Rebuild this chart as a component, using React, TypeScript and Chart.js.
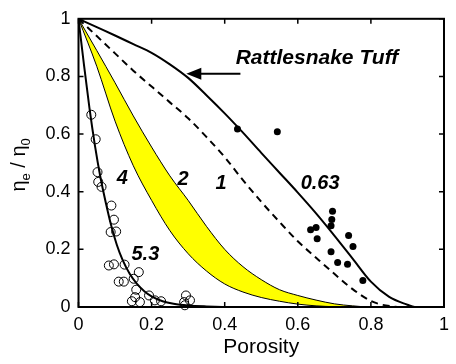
import { useEffect, useRef } from "react";
import { Chart, registerables } from "chart.js";

Chart.register(...registerables);

const FONT = '"Liberation Sans", Arial, Helvetica, sans-serif';

// Axis ticks
const tickValues = [0, 0.2, 0.4, 0.6, 0.8, 1];
const tickLabels = ["0", "0.2", "0.4", "0.6", "0.8", "1"];

// Fit with exponent 0.63 (Rattlesnake Tuff)
const fit063Phi = [0, 0.05, 0.1, 0.15, 0.2, 0.25, 0.3, 0.35, 0.4, 0.45, 0.5, 0.55, 0.6, 0.65, 0.7, 0.75, 0.8, 0.85, 0.9, 0.92, 1];
const fit063Eta = [1, 0.971, 0.942, 0.912, 0.882, 0.842, 0.795, 0.735, 0.672, 0.605, 0.535, 0.466, 0.397, 0.325, 0.248, 0.168, 0.088, 0.035, 0.008, 0, 0];

// Exponent 1 (dashed)
const fit1Phi = [0, 0.05, 0.1, 0.15, 0.2, 0.25, 0.3, 0.35, 0.4, 0.45, 0.5, 0.55, 0.6, 0.65, 0.7, 0.75, 0.8, 0.83, 0.86, 0.88, 1];
const fit1Eta = [1, 0.94, 0.88, 0.82, 0.765, 0.71, 0.655, 0.59, 0.52, 0.44, 0.365, 0.295, 0.228, 0.171, 0.115, 0.062, 0.021, 0.008, 0.002, 0, 0];

// Shaded band between exponents 2 and 4
const bandPhi = [0, 0.05, 0.1, 0.15, 0.2, 0.25, 0.3, 0.35, 0.4, 0.45, 0.5, 0.55, 0.6, 0.65, 0.7, 0.75, 0.8, 1];
const band2Eta = [1, 0.89, 0.778, 0.663, 0.555, 0.455, 0.37, 0.28, 0.2, 0.14, 0.095, 0.06, 0.04, 0.024, 0.011, 0.004, 0, 0];
const band4Eta = [1, 0.835, 0.645, 0.49, 0.37, 0.265, 0.185, 0.125, 0.08, 0.052, 0.033, 0.02, 0.01, 0.004, 0.001, 0, 0, 0];

// Exponent 5.3 fit
const fit53Phi = [0, 0.015, 0.03, 0.045, 0.06, 0.075, 0.09, 0.105, 0.12, 0.14, 0.16, 0.18, 0.2, 0.23, 0.26, 0.3, 0.35, 0.43, 1];
const fit53Eta = [1, 0.84, 0.69, 0.56, 0.45, 0.36, 0.28, 0.215, 0.165, 0.115, 0.08, 0.055, 0.037, 0.02, 0.011, 0.005, 0.002, 0, 0];

// Open-circle measurements
const openPhi = [0.035, 0.047, 0.052, 0.054, 0.063, 0.09, 0.097, 0.103, 0.088, 0.083, 0.097, 0.126, 0.11, 0.124, 0.165, 0.151, 0.158, 0.155, 0.146, 0.168, 0.193, 0.209, 0.226, 0.294, 0.305, 0.289, 0.291];
const openEta = [0.667, 0.582, 0.468, 0.434, 0.417, 0.352, 0.303, 0.262, 0.26, 0.144, 0.148, 0.147, 0.088, 0.088, 0.121, 0.098, 0.06, 0.034, 0.02, 0.017, 0.04, 0.023, 0.02, 0.04, 0.023, 0.017, 0.006];

// Rattlesnake Tuff measurements
const tuffPhi = [0.435, 0.544, 0.695, 0.693, 0.691, 0.635, 0.65, 0.653, 0.739, 0.751, 0.691, 0.709, 0.736, 0.778];
const tuffEta = [0.618, 0.608, 0.332, 0.304, 0.282, 0.268, 0.276, 0.237, 0.248, 0.21, 0.192, 0.154, 0.148, 0.092];

const pts = (xs: number[], ys: number[]) => xs.map((x, i) => ({ x, y: ys[i] }));

const curveLabels = [
  { text: "4", x: 0.12, y: 0.447 },
  { text: "2", x: 0.286, y: 0.442 },
  { text: "1", x: 0.39, y: 0.43 },
  { text: "5.3", x: 0.183, y: 0.182 },
  { text: "0.63", x: 0.661, y: 0.427 },
];

const framePlugin = {
  id: "frameAndNotes",
  afterDraw(chart: any) {
    const { ctx, chartArea: a, scales } = chart;
    const xs = scales.x;
    const ys = scales.y;
    ctx.save();
    ctx.strokeStyle = "#000";
    ctx.fillStyle = "#000";
    ctx.lineWidth = 2;
    ctx.strokeRect(a.left, a.top, a.right - a.left, a.bottom - a.top);
    ctx.lineWidth = 1.5;
    const tl = 5;
    ctx.beginPath();
    tickValues.forEach((v) => {
      const px = xs.getPixelForValue(v);
      ctx.moveTo(px, a.bottom);
      ctx.lineTo(px, a.bottom - tl);
      ctx.moveTo(px, a.top);
      ctx.lineTo(px, a.top + tl);
      const py = ys.getPixelForValue(v);
      ctx.moveTo(a.left, py);
      ctx.lineTo(a.left + tl, py);
      ctx.moveTo(a.right, py);
      ctx.lineTo(a.right - tl, py);
    });
    ctx.stroke();

    // curve exponents
    ctx.font = `italic bold 20px ${FONT}`;
    ctx.textAlign = "center";
    ctx.textBaseline = "middle";
    curveLabels.forEach((l) => {
      ctx.fillText(l.text, xs.getPixelForValue(l.x), ys.getPixelForValue(l.y));
    });

    // Rattlesnake Tuff note with arrow
    ctx.textAlign = "left";
    ctx.textBaseline = "alphabetic";
    ctx.font = `italic bold 21px ${FONT}`;
    ctx.fillText("Rattlesnake Tuff", xs.getPixelForValue(0.43), ys.getPixelForValue(0.842));
    const ay = ys.getPixelForValue(0.809);
    const tail = xs.getPixelForValue(0.443);
    const head = xs.getPixelForValue(0.295);
    ctx.lineWidth = 2;
    ctx.beginPath();
    ctx.moveTo(tail, ay);
    ctx.lineTo(head + 10, ay);
    ctx.stroke();
    ctx.beginPath();
    ctx.moveTo(head, ay);
    ctx.lineTo(head + 15, ay - 6);
    ctx.lineTo(head + 15, ay + 6);
    ctx.closePath();
    ctx.fill();

    // axis titles
    ctx.font = `21px ${FONT}`;
    ctx.textAlign = "center";
    ctx.fillText("Porosity", (a.left + a.right) / 2, 353);

    ctx.translate(25, (a.top + a.bottom) / 2 + 2);
    ctx.rotate(-Math.PI / 2);
    const parts = [
      { t: "η", f: `20px ${FONT}`, dy: 0 },
      { t: "e", f: `13px ${FONT}`, dy: 5 },
      { t: " / ", f: `20px ${FONT}`, dy: 0 },
      { t: "η", f: `20px ${FONT}`, dy: 0 },
      { t: "0", f: `13px ${FONT}`, dy: 5 },
    ];
    let total = 0;
    parts.forEach((p) => {
      ctx.font = p.f;
      total += ctx.measureText(p.t).width;
    });
    let cx = -total / 2;
    ctx.textAlign = "left";
    parts.forEach((p) => {
      ctx.font = p.f;
      ctx.fillText(p.t, cx, p.dy);
      cx += ctx.measureText(p.t).width;
    });
    ctx.restore();
  },
};

export default function App() {
  const ref = useRef<HTMLCanvasElement>(null);
  useEffect(() => {
    if (!ref.current) return;
    const line = (data: any, extra: any = {}) => ({
      data,
      borderColor: "#000",
      borderWidth: 2,
      pointRadius: 0,
      cubicInterpolationMode: "monotone",
      fill: false,
      ...extra,
    });
    const chart = new Chart(ref.current, {
      type: "line",
      data: {
        datasets: [
          {
            data: pts(openPhi, openEta),
            showLine: false,
            pointRadius: 4.5,
            pointBorderWidth: 1,
            pointBorderColor: "#000",
            pointBackgroundColor: "rgba(0,0,0,0)",
            clip: 8,
          },
          {
            data: pts(tuffPhi, tuffEta),
            showLine: false,
            pointRadius: 3.5,
            pointBorderWidth: 0,
            pointBackgroundColor: "#000",
            clip: 8,
          },
          line(pts(fit063Phi, fit063Eta)),
          line(pts(fit1Phi, fit1Eta), { borderDash: [7, 5] }),
          line(pts(fit53Phi, fit53Eta)),
          line(pts(bandPhi, band2Eta), { borderWidth: 1, fill: "+1", backgroundColor: "#ffff00" }),
          line(pts(bandPhi, band4Eta), { borderWidth: 1 }),
        ] as any,
      },
      options: {
        animation: false,
        responsive: false,
        maintainAspectRatio: false,
        events: [],
        layout: { padding: { top: 12, right: 6, left: 0, bottom: 0 } },
        plugins: {
          legend: { display: false },
          tooltip: { enabled: false },
          filler: { drawTime: "beforeDatasetsDraw" },
        } as any,
        scales: {
          x: {
            type: "linear",
            min: 0,
            max: 1,
            grid: { display: false, drawTicks: false },
            border: { display: false },
            afterFit: (s: any) => {
              s.height = 57;
            },
            afterBuildTicks: (s: any) => {
              s.ticks = tickValues.map((v) => ({ value: v }));
            },
            ticks: {
              padding: 7,
              color: "#000",
              font: { family: FONT, size: 18 },
              maxRotation: 0,
              callback: (v: any) => tickLabels[tickValues.indexOf(Math.round(v * 10) / 10)],
            },
          },
          y: {
            type: "linear",
            min: 0,
            max: 1,
            grid: { display: false, drawTicks: false },
            border: { display: false },
            afterFit: (s: any) => {
              s.width = 78.5;
            },
            afterBuildTicks: (s: any) => {
              s.ticks = tickValues.map((v) => ({ value: v }));
            },
            ticks: {
              padding: 8,
              color: "#000",
              font: { family: FONT, size: 18 },
              callback: (v: any) => tickLabels[tickValues.indexOf(Math.round(v * 10) / 10)],
            },
          },
        },
      },
      plugins: [framePlugin],
    });
    return () => chart.destroy();
  }, []);
  return (
    <div style={{ position: "fixed", left: 0, top: 0, width: 456, height: 364, background: "#fff" }}>
      <canvas ref={ref} width={456} height={364} style={{ display: "block", width: 456, height: 364 }} />
    </div>
  );
}
